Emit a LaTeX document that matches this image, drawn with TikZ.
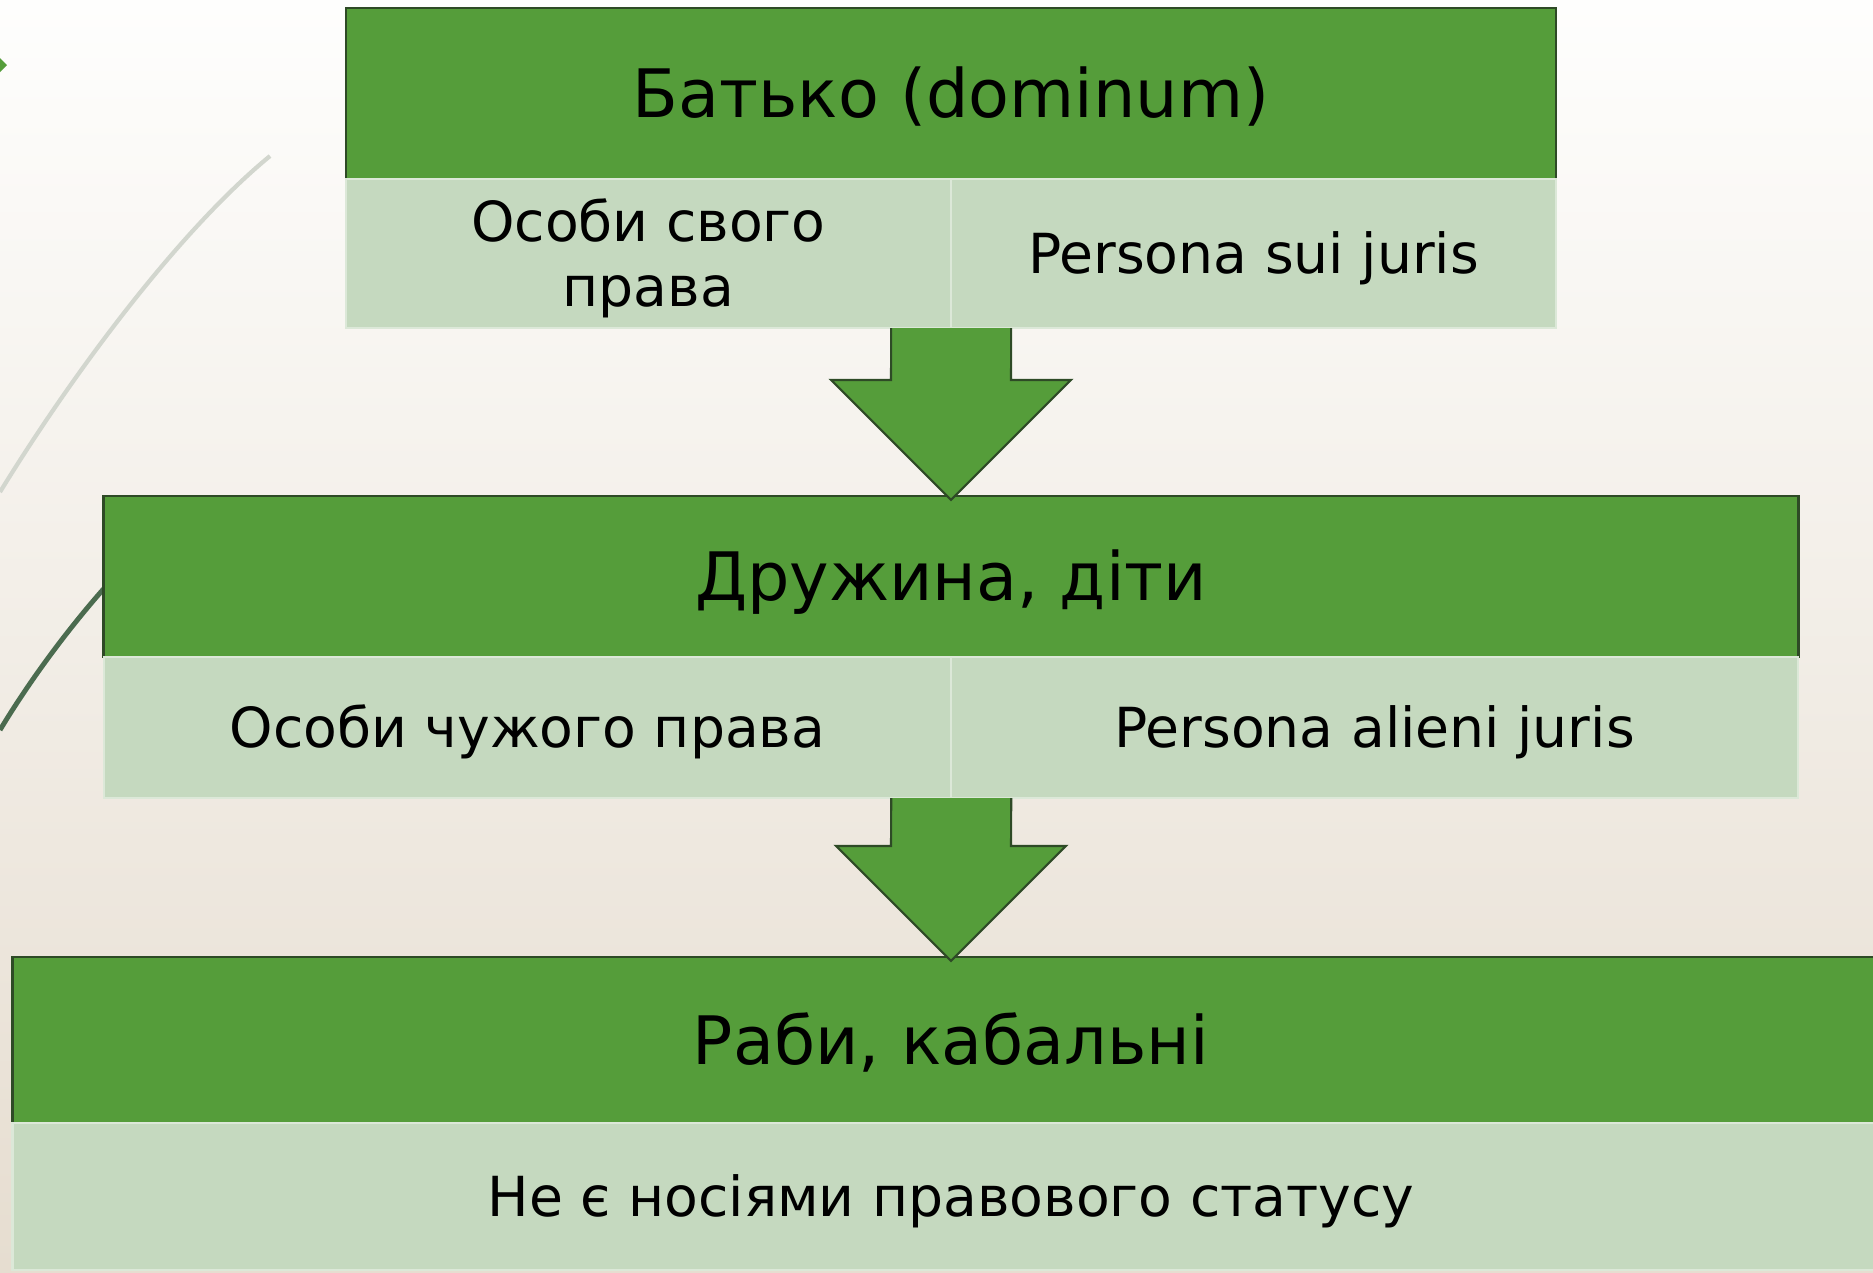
\documentclass[tikz,border=0pt]{standalone}
\usepackage{fontspec}
\setmainfont{DejaVu Sans}
\usetikzlibrary{calc}

\definecolor{headgreen}{HTML}{559D3A}
\definecolor{cellgreen}{HTML}{C5D9BF}
\definecolor{edgegreen}{HTML}{2E4A26}
\definecolor{celledge}{HTML}{DCE8D8}
\definecolor{bgtop}{HTML}{FEFEFD}
\definecolor{bgbottom}{HTML}{E6DDD0}
\definecolor{curvegray}{HTML}{D2D6CE}
\definecolor{curvedark}{HTML}{4B6B4F}

\tikzset{
    head/.style={draw=edgegreen, fill=headgreen, line width=0.6pt, inner sep=0pt, outer sep=0pt,
        font=\fontsize{19pt}{23pt}\selectfont, text height=13.9pt, text depth=0pt},
    cell/.style={draw=celledge, fill=cellgreen, line width=0.6pt, inner sep=0pt, outer sep=0pt,
        font=\fontsize{15.7pt}{18.4pt}\selectfont, align=center, text height=11.5pt, text depth=0pt},
    blockarrow/.style={fill=headgreen, draw=edgegreen, line width=0.6pt, line join=miter}
}

% block arrow from a split point down to the next header, #3 = half width of the head
\newcommand{\flowarrow}[3]{%
    \filldraw[blockarrow] ($(#1)+(-60,0)$) -- ($(#2.north)+(-60,4-#3)$)
        -- ($(#2.north)+(-#3,4-#3)$) -- ($(#2.north)+(0,4)$)
        -- ($(#2.north)+(#3,4-#3)$) -- ($(#2.north)+(60,4-#3)$)
        -- ($(#1)+(60,0)$);
}

\begin{document}
\begin{tikzpicture}[x=0.01cm, y=-0.01cm]
    \useasboundingbox (0,0) rectangle (1873,1272);
    \clip (0,0) rectangle (1873,1272);
    \shade[top color=bgtop, bottom color=bgbottom] (0,0) rectangle (1873,1272);

    % Decorative lines on the left
    \draw[curvegray, line width=1.2pt] (270,156) .. controls (180,230) and (75,370) .. (0,492);
    \draw[curvedark, line width=1.4pt] (140,550) .. controls (80,610) and (30,680) .. (0,730);
    \fill[headgreen] (-7,65) -- (0,58) -- (7,65) -- (0,72) -- cycle;

    % Father
    \node[head, minimum width=12.1cm, minimum height=1.71cm] (father) at (951,93.5) {Батько (dominum)};
    \node[cell, minimum width=6.05cm, minimum height=1.49cm, text height=29.9pt] (ownlaw) at (648.5,253.5) {Особи свого\\права};
    \node[cell, minimum width=6.05cm, minimum height=1.49cm] (suijuris) at (1253.5,253.5) {Persona sui juris};

    % Wife and children
    \node[head, minimum width=16.94cm, minimum height=1.61cm] (family) at (951,576.5) {Дружина, діти};
    \node[cell, minimum width=8.47cm, minimum height=1.41cm] (otherlaw) at (527.5,727.5) {Особи чужого права};
    \node[cell, minimum width=8.47cm, minimum height=1.41cm] (alienijuris) at (1374.5,727.5) {Persona alieni juris};

    % Slaves
    \node[head, minimum width=18.76cm, minimum height=1.66cm] (slaves) at (951,1040) {Раби, кабальні};
    \node[cell, minimum width=18.76cm, minimum height=1.47cm] (nostatus) at (951,1196.5) {Не є носіями правового статусу};

    % Arrows between levels
    \flowarrow{ownlaw.south east}{family}{120}
    \flowarrow{otherlaw.south east}{slaves}{115}
\end{tikzpicture}
\end{document}
